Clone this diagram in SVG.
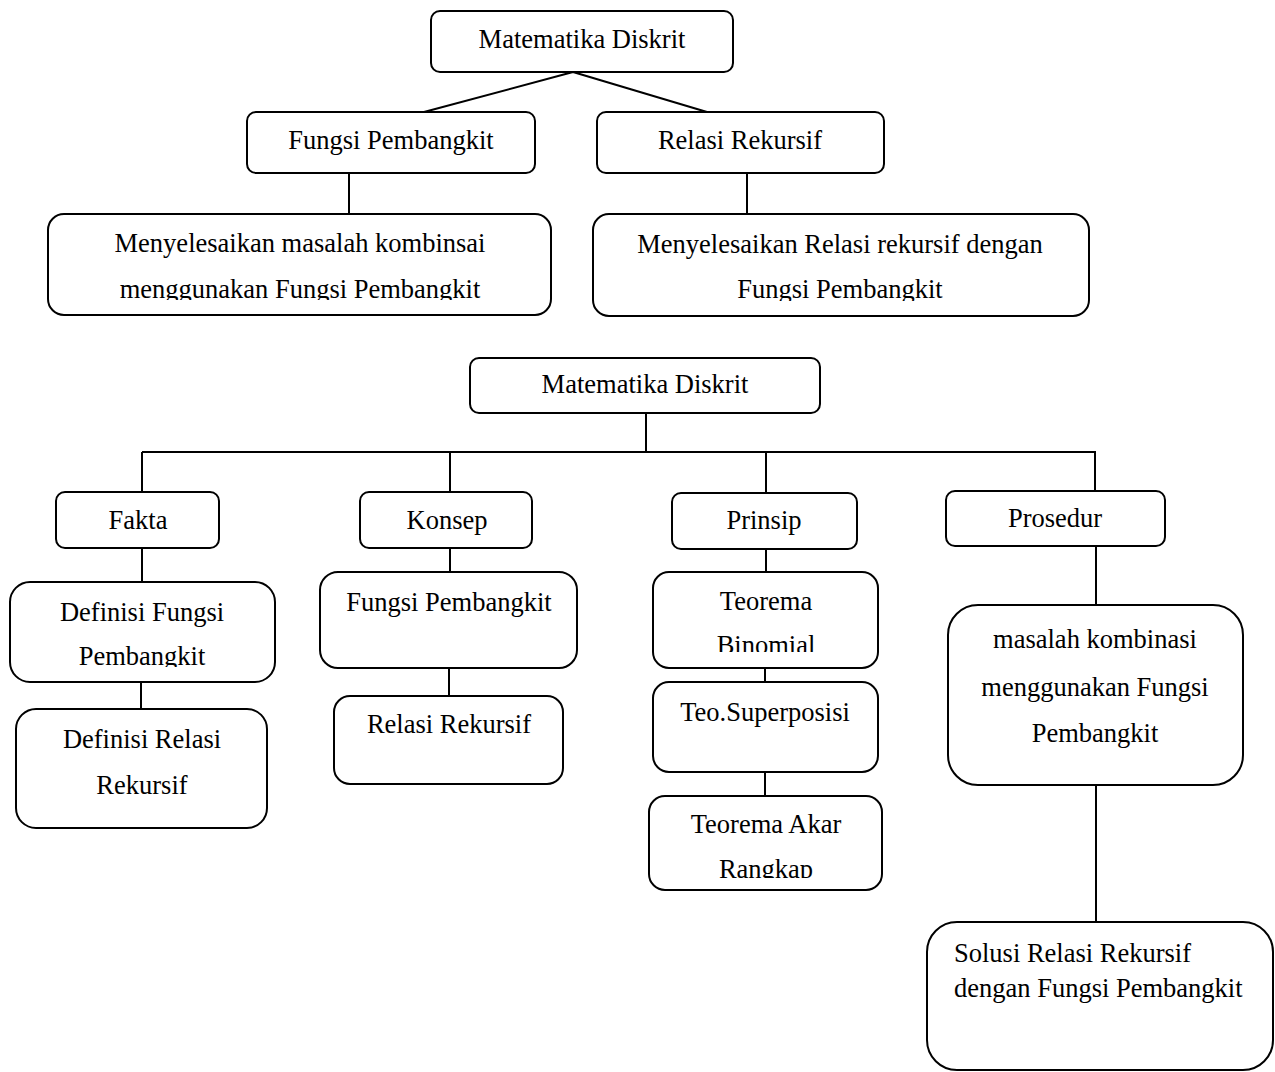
<svg xmlns="http://www.w3.org/2000/svg" width="1275" height="1072" viewBox="0 0 1275 1072">
<style>
.b{fill:#fff;stroke:#000;stroke-width:2}
.t{font-family:"Liberation Serif","Times New Roman",serif;font-size:26.5px;fill:#000;text-anchor:middle}
.l{text-anchor:start}
.c{stroke:#000;stroke-width:2;fill:none}
</style>
<defs>
<clipPath id="cD"><rect x="48" y="214" width="503" height="86"/></clipPath>
<clipPath id="cE"><rect x="593" y="214" width="496" height="87"/></clipPath>
<clipPath id="cDF"><rect x="10" y="582" width="265" height="85"/></clipPath>
<clipPath id="cTB"><rect x="653" y="572" width="225" height="80"/></clipPath>
<clipPath id="cTA"><rect x="649" y="796" width="233" height="82"/></clipPath>
</defs>
<g id="connectors">
<path class="c" d="M573 72 L424 112 M573 72 L707 112"/>
<path class="c" d="M349 173 V214 M747 173 V214"/>
<path class="c" d="M646 413 V452 M142 452 H1096 M142 452 V492 M450 452 V492 M766 452 V493 M1095 452 V491"/>
<path class="c" d="M142 548 V582 M141 682 V709"/>
<path class="c" d="M450 548 V572 M449 668 V696"/>
<path class="c" d="M766 549 V572 M765 668 V682 M765 772 V796"/>
<path class="c" d="M1096 546 V605 M1096 785 V922"/>
</g>
<g id="n1"><rect class="b" x="431" y="11" width="302" height="61" rx="9"/><text class="t" x="582" y="48">Matematika Diskrit</text></g>
<g id="n2"><rect class="b" x="247" y="112" width="288" height="61" rx="9"/><text class="t" x="391" y="149">Fungsi Pembangkit</text></g>
<g id="n3"><rect class="b" x="597" y="112" width="287" height="61" rx="9"/><text class="t" x="740" y="149">Relasi Rekursif</text></g>
<g id="n4"><rect class="b" x="48" y="214" width="503" height="101" rx="16"/><g clip-path="url(#cD)"><text class="t" x="300" y="252">Menyelesaikan masalah kombinsai</text><text class="t" x="300" y="298">menggunakan Fungsi Pembangkit</text></g></g>
<g id="n5"><rect class="b" x="593" y="214" width="496" height="102" rx="16"/><g clip-path="url(#cE)"><text class="t" x="840" y="253">Menyelesaikan Relasi rekursif dengan</text><text class="t" x="840" y="298">Fungsi Pembangkit</text></g></g>
<g id="n6"><rect class="b" x="470" y="358" width="350" height="55" rx="9"/><text class="t" x="645" y="393">Matematika Diskrit</text></g>
<g id="n7"><rect class="b" x="56" y="492" width="163" height="56" rx="9"/><text class="t" x="138" y="529">Fakta</text></g>
<g id="n8"><rect class="b" x="360" y="492" width="172" height="56" rx="9"/><text class="t" x="447" y="529">Konsep</text></g>
<g id="n9"><rect class="b" x="672" y="493" width="185" height="56" rx="9"/><text class="t" x="764" y="529">Prinsip</text></g>
<g id="n10"><rect class="b" x="946" y="491" width="219" height="55" rx="9"/><text class="t" x="1055" y="527">Prosedur</text></g>
<g id="n11"><rect class="b" x="10" y="582" width="265" height="100" rx="20"/><g clip-path="url(#cDF)"><text class="t" x="142" y="621">Definisi Fungsi</text><text class="t" x="142" y="665">Pembangkit</text></g></g>
<g id="n12"><rect class="b" x="16" y="709" width="251" height="119" rx="20"/><text class="t" x="142" y="748">Definisi Relasi</text><text class="t" x="142" y="794">Rekursif</text></g>
<g id="n13"><rect class="b" x="320" y="572" width="257" height="96" rx="18"/><text class="t" x="449" y="611">Fungsi Pembangkit</text></g>
<g id="n14"><rect class="b" x="334" y="696" width="229" height="88" rx="16"/><text class="t" x="449" y="733">Relasi Rekursif</text></g>
<g id="n15"><rect class="b" x="653" y="572" width="225" height="96" rx="16"/><g clip-path="url(#cTB)"><text class="t" x="766" y="610">Teorema</text><text class="t" x="766" y="654">Binomial</text></g></g>
<g id="n16"><rect class="b" x="653" y="682" width="225" height="90" rx="16"/><text class="t" x="765" y="721">Teo.Superposisi</text></g>
<g id="n17"><rect class="b" x="649" y="796" width="233" height="94" rx="16"/><g clip-path="url(#cTA)"><text class="t" x="766" y="833">Teorema Akar</text><text class="t" x="766" y="878">Rangkap</text></g></g>
<g id="n18"><rect class="b" x="948" y="605" width="295" height="180" rx="30"/><text class="t" x="1095" y="648">masalah kombinasi</text><text class="t" x="1095" y="696">menggunakan Fungsi</text><text class="t" x="1095" y="742">Pembangkit</text></g>
<g id="n19"><rect class="b" x="927" y="922" width="346" height="148" rx="30"/><text class="t l" x="954" y="962">Solusi Relasi Rekursif</text><text class="t l" x="954" y="997">dengan Fungsi Pembangkit</text></g>
</svg>
